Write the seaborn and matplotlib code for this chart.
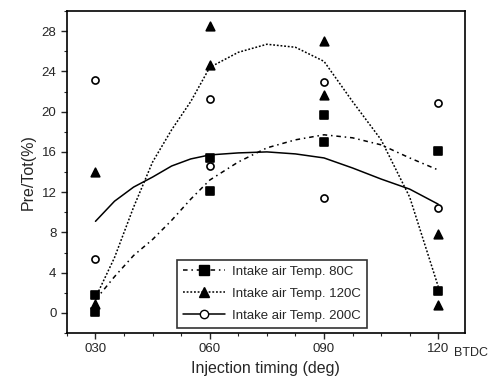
import matplotlib
matplotlib.use('Agg')
import matplotlib.pyplot as plt
from matplotlib.lines import Line2D
from matplotlib.ticker import MultipleLocator
import seaborn as sns
import pandas as pd

sns.set_style("ticks")
plt.rcParams['font.family'] = ['Liberation Sans', 'DejaVu Sans']

# -------------------------------Datos medidos
timing = [30, 30, 60, 60, 90, 90, 120, 120]
t80 = [1.8, 0.1, 15.4, 12.1, 19.7, 17.0, 16.1, 2.2]
t120 = [14.0, 0.9, 28.5, 24.6, 27.0, 21.7, 7.8, 0.8]
t200 = [23.1, 5.4, 21.3, 14.6, 22.9, 11.4, 20.9, 10.4]

# Curvas de ajuste
fit_x = [30, 35, 40, 45, 50, 55, 60, 67.5, 75, 82.5, 90, 97.5, 105, 112.5, 120]
fit80 = [1.3, 3.6, 5.7, 7.3, 9.2, 11.3, 13.2, 15.0, 16.4, 17.2, 17.7, 17.4, 16.7, 15.4, 14.2]
fit120 = [1.5, 5.5, 10.5, 15.0, 18.2, 21.0, 24.4, 25.9, 26.7, 26.4, 25.0, 21.0, 17.2, 11.5, 2.6]
fit200 = [9.1, 11.1, 12.5, 13.5, 14.6, 15.3, 15.7, 15.9, 16.0, 15.8, 15.4, 14.4, 13.3, 12.3, 10.8]

xticks = [30, 60, 90, 120]
xticklabels = ['030', '060', '090', '120']
labels = ['Intake air Temp. 80C', 'Intake air Temp. 120C', 'Intake air Temp. 200C']

puntos = pd.DataFrame({'timing': timing, 't80': t80, 't120': t120, 't200': t200})
curvas = pd.DataFrame({'x': fit_x, 'f80': fit80, 'f120': fit120, 'f200': fit200})

estilos = [
    ('t80', 'f80', 's', 'black', (0, (3, 2.5, 1, 2.5))),
    ('t120', 'f120', '^', 'black', (0, (1.2, 1.2))),
    ('t200', 'f200', 'o', 'white', '-'),
]

fig = plt.figure(figsize=(4.92, 3.81), dpi=100)
ax = fig.add_axes([0.136, 0.126, 0.809, 0.845])

handles = []
for (col_p, col_f, marcador, relleno, ls), lab in zip(estilos, labels):
    sns.lineplot(data=curvas, x='x', y=col_f, color='black', linewidth=1.1,
                 linestyle=ls, ax=ax, legend=False)
    sns.scatterplot(data=puntos, x='timing', y=col_p, marker=marcador,
                    s=38 if marcador != 'o' else 26, color=relleno,
                    edgecolor='black', linewidth=1.2, ax=ax, legend=False, zorder=3)
    handles.append(Line2D([], [], color='black', linestyle=ls, linewidth=1.1,
                          marker=marcador, markersize=7 if marcador != 'o' else 6,
                          markerfacecolor=relleno, markeredgecolor='black'))

ax.set_xlim(22.5, 127)
ax.set_ylim(-2, 30)
ax.set_xticks(xticks)
ax.set_xticklabels(xticklabels)
ax.xaxis.set_minor_locator(MultipleLocator(7.5))
ax.set_yticks(range(0, 29, 4))
ax.yaxis.set_minor_locator(MultipleLocator(2))
ax.tick_params(axis='both', which='major', direction='out', length=4, width=1, labelsize=9.5)
ax.tick_params(axis='both', which='minor', direction='out', length=2.5, width=0.8)
for sp in ax.spines.values():
    sp.set_linewidth(1.2)
    sp.set_color('black')

ax.set_xlabel('Injection timing (deg)', fontsize=11.5, labelpad=4)
ax.set_ylabel('Pre/Tot(%)', fontsize=11.5, labelpad=4)
ax.text(0.972, -0.045, 'BTDC', transform=ax.transAxes, fontsize=9,
        ha='left', va='top')

leg = ax.legend(handles, labels, loc='lower left', bbox_to_anchor=(0.26, -0.005),
                fontsize=9.5, frameon=True, fancybox=False, handlelength=3.2,
                borderpad=0.45, labelspacing=0.75, handletextpad=0.5)
leg.get_frame().set_edgecolor('black')
leg.get_frame().set_linewidth(1.2)

plt.savefig('out.png', dpi=100)
plt.close()
